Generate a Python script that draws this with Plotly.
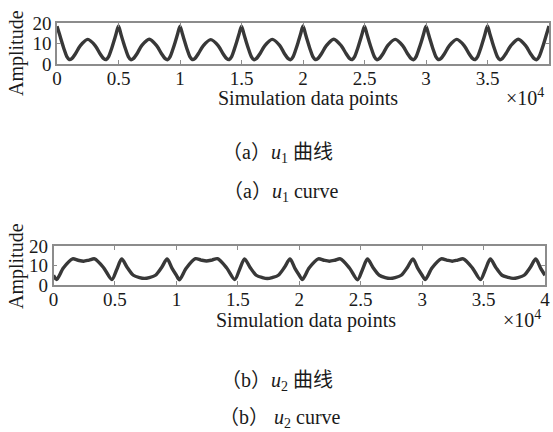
import plotly.graph_objects as go

W, H = 553, 432

# ---- data (x in units of 10^4 simulation data points) ----
u1_x = [0.00, 0.02, 0.04, 0.06, 0.08, 0.10, 0.12, 0.15, 0.19, 0.25, 0.31, 0.35, 0.38, 0.40, 0.42, 0.44, 0.46, 0.48,
        0.50, 0.52, 0.54, 0.56, 0.58, 0.60, 0.62, 0.65, 0.69, 0.75, 0.81, 0.85, 0.88, 0.90, 0.92, 0.94, 0.96, 0.98,
        1.00, 1.02, 1.04, 1.06, 1.08, 1.10, 1.12, 1.15, 1.19, 1.25, 1.31, 1.35, 1.38, 1.40, 1.42, 1.44, 1.46, 1.48,
        1.50, 1.52, 1.54, 1.56, 1.58, 1.60, 1.62, 1.65, 1.69, 1.75, 1.81, 1.85, 1.88, 1.90, 1.92, 1.94, 1.96, 1.98,
        2.00, 2.02, 2.04, 2.06, 2.08, 2.10, 2.12, 2.15, 2.19, 2.25, 2.31, 2.35, 2.38, 2.40, 2.42, 2.44, 2.46, 2.48,
        2.50, 2.52, 2.54, 2.56, 2.58, 2.60, 2.62, 2.65, 2.69, 2.75, 2.81, 2.85, 2.88, 2.90, 2.92, 2.94, 2.96, 2.98,
        3.00, 3.02, 3.04, 3.06, 3.08, 3.10, 3.12, 3.15, 3.19, 3.25, 3.31, 3.35, 3.38, 3.40, 3.42, 3.44, 3.46, 3.48,
        3.50, 3.52, 3.54, 3.56, 3.58, 3.60, 3.62, 3.65, 3.69, 3.75, 3.81, 3.85, 3.88, 3.90, 3.92, 3.94, 3.96, 3.98,
        4.00]
u1_y = [18.4, 14.6, 10.6, 6.8, 3.6, 2.2, 2.6, 5.0, 9.0, 12.0, 9.0, 5.0, 2.6, 2.2, 3.6, 6.8, 10.6, 14.6,
        18.6, 14.5, 10.5, 6.8, 3.6, 2.1, 2.6, 5.0, 9.1, 12.1, 9.0, 5.0, 2.6, 2.1, 3.6, 6.8, 10.5, 14.5,
        18.5, 14.6, 10.6, 6.8, 3.6, 2.2, 2.6, 5.1, 9.0, 11.9, 9.0, 5.0, 2.6, 2.2, 3.6, 6.9, 10.6, 14.6,
        18.5, 14.5, 10.5, 6.8, 3.6, 2.1, 2.6, 5.0, 9.0, 12.0, 9.1, 5.0, 2.6, 2.1, 3.6, 6.8, 10.5, 14.5,
        18.6, 14.6, 10.6, 6.8, 3.6, 2.2, 2.6, 5.0, 9.0, 12.1, 9.0, 5.1, 2.6, 2.2, 3.6, 6.8, 10.6, 14.6,
        18.5, 14.5, 10.5, 6.8, 3.6, 2.1, 2.6, 5.0, 9.1, 12.0, 9.0, 5.0, 2.6, 2.1, 3.6, 6.9, 10.5, 14.5,
        18.5, 14.6, 10.6, 6.8, 3.6, 2.2, 2.6, 5.0, 9.0, 12.0, 9.0, 5.0, 2.6, 2.2, 3.6, 6.8, 10.6, 14.6,
        18.6, 14.5, 10.5, 6.8, 3.6, 2.1, 2.6, 5.1, 9.0, 12.1, 9.0, 5.0, 2.6, 2.1, 3.6, 6.8, 10.5, 14.5,
        18.5]

u2_x = [0.000, 0.025, 0.080, 0.155, 0.200, 0.245, 0.290, 0.335, 0.410, 0.475, 0.515,
        0.555, 0.600, 0.650, 0.700, 0.740, 0.780, 0.830, 0.880, 0.925, 0.965,
        1.000, 1.025, 1.080, 1.155, 1.200, 1.245, 1.290, 1.335, 1.410, 1.475, 1.515,
        1.555, 1.600, 1.650, 1.700, 1.740, 1.780, 1.830, 1.880, 1.925, 1.965,
        2.000, 2.025, 2.080, 2.155, 2.200, 2.245, 2.290, 2.335, 2.410, 2.475, 2.515,
        2.555, 2.600, 2.650, 2.700, 2.740, 2.780, 2.830, 2.880, 2.925, 2.965,
        3.000, 3.025, 3.080, 3.155, 3.200, 3.245, 3.290, 3.335, 3.410, 3.475, 3.515,
        3.555, 3.600, 3.650, 3.700, 3.740, 3.780, 3.830, 3.880, 3.925, 3.965,
        4.000]
u2_y = [5.0, 2.8, 8.7, 13.4, 12.7, 12.2, 12.8, 13.4, 8.7, 2.8, 8.0,
        13.3, 9.0, 5.0, 3.8, 3.4, 3.8, 5.0, 9.0, 13.3, 8.5,
        5.0, 2.7, 8.6, 13.5, 12.8, 12.3, 12.8, 13.5, 8.7, 2.8, 8.1,
        13.4, 9.0, 5.0, 3.8, 3.3, 3.8, 5.0, 9.1, 13.3, 8.5,
        5.0, 2.8, 8.7, 13.4, 12.7, 12.2, 12.7, 13.4, 8.6, 2.7, 8.0,
        13.3, 9.0, 5.1, 3.8, 3.4, 3.8, 5.0, 9.0, 13.4, 8.5,
        5.0, 2.8, 8.7, 13.4, 12.8, 12.2, 12.8, 13.4, 8.7, 2.8, 8.0,
        13.3, 9.0, 5.0, 3.9, 3.4, 3.8, 5.0, 9.0, 13.3, 8.5,
        5.0]

x_ticks = [0, 0.5, 1, 1.5, 2, 2.5, 3, 3.5, 4]
x_ticktext = ["0", "0.5", "1", "1.5", "2", "2.5", "3", "3.5", "4"]
y_ticks = [0, 10, 20]
y_ticktext = ["0", "10", "20"]

SERIF = "Liberation Serif, Times New Roman, serif"
CAP = "Liberation Serif, Noto Sans CJK SC, serif"
TXT = "#1a1a1a"
AX = "#8c8c8c"
LINE = "#383838"


def px(x):
    return x / W


def py(y):
    return 1 - y / H


fig = go.Figure()
fig.add_trace(go.Scatter(x=u1_x, y=u1_y, mode="lines", line=dict(color=LINE, width=3.4, shape="spline", smoothing=0.8),
                         xaxis="x", yaxis="y", showlegend=False, hoverinfo="skip"))
fig.add_trace(go.Scatter(x=u2_x, y=u2_y, mode="lines", line=dict(color=LINE, width=3.4, shape="spline", smoothing=0.8),
                         xaxis="x2", yaxis="y2", showlegend=False, hoverinfo="skip"))

xcommon = dict(range=[0, 4], tickvals=x_ticks, ticktext=x_ticktext, showline=True, mirror="ticks",
               ticks="inside", ticklen=4, tickcolor=AX, linecolor=AX, linewidth=1.5, showgrid=False,
               zeroline=False, automargin=False, ticklabelstandoff=-4,
               tickfont=dict(family=SERIF, size=19, color=TXT))
ycommon = dict(range=[0, 20], tickvals=y_ticks, ticktext=y_ticktext, showline=True, mirror="ticks",
               ticks="inside", ticklen=4, tickcolor=AX, linecolor=AX, linewidth=1.5, showgrid=False,
               zeroline=False, automargin=False, tickfont=dict(family=SERIF, size=19, color=TXT))

fig.update_layout(
    width=W, height=H, margin=dict(l=0, r=0, t=0, b=0, pad=0), autosize=False,
    paper_bgcolor="white", plot_bgcolor="white",
    xaxis=dict(domain=[px(57), px(549)], anchor="y", **xcommon),
    yaxis=dict(domain=[py(64), py(23)], anchor="x", **ycommon),
    xaxis2=dict(domain=[px(53.5), px(545)], anchor="y2", **xcommon),
    yaxis2=dict(domain=[py(285), py(246)], anchor="x2", **ycommon),
)

annots = [
    ("Amplitude", 16, 53, -90, SERIF, 20),
    ("Simulation data points", 308, 98, 0, SERIF, 20),
    ("×10<sup>4</sup>", 525, 97, 0, SERIF, 20),
    ("Amplitude", 16, 266, -90, SERIF, 20),
    ("Simulation data points", 306, 320, 0, SERIF, 20),
    ("×10<sup>4</sup>", 522, 319, 0, SERIF, 20),
    ("（a）<i>u</i><sub>1</sub> 曲线", 277, 154, 0, CAP, 20),
    ("（a）<i>u</i><sub>1</sub> curve", 280, 192, 0, CAP, 20),
    ("（b）<i>u</i><sub>2</sub> 曲线", 277, 381, 0, CAP, 20),
    ("（b） <i>u</i><sub>2</sub> curve", 280, 418, 0, CAP, 20),
]
for text, x, y, ang, fam, size in annots:
    fig.add_annotation(text=text, x=px(x), y=py(y), xref="paper", yref="paper", showarrow=False,
                       textangle=ang, xanchor="center", yanchor="middle",
                       font=dict(family=fam, size=size, color=TXT))

fig.write_html("out.html", config={"displayModeBar": False},
               post_script="document.body.style.margin='0px';")
